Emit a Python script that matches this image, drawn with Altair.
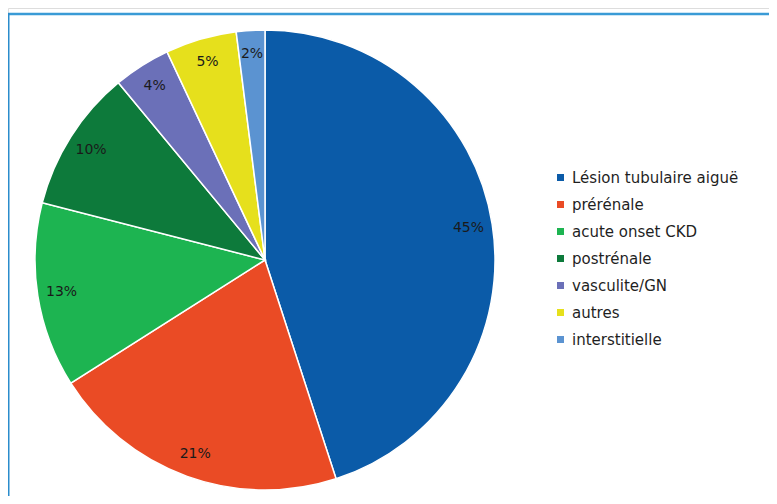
import altair as alt
import pandas as pd

categories = ["Lésion tubulaire aiguë", "prérénale", "acute onset CKD", "postrénale",
              "vasculite/GN", "autres", "interstitielle"]
values = [45, 21, 13, 10, 4, 5, 2]
labels = ["45%", "21%", "13%", "10%", "4%", "5%", "2%"]
colors = ["#0b5ba8", "#ea4b25", "#1db451", "#0d7a3b", "#6b70b8", "#e6e01c", "#5b93d1"]

df = pd.DataFrame({"cat": categories, "val": values, "lab": labels,
                   "ord": list(range(len(categories)))})

W, H = 761, 488
cx, cy, R = 257, 252, 230

base = alt.Chart(df).encode(
    theta=alt.Theta("val:Q", stack=True),
    order=alt.Order("ord:Q"),
)

pie = base.mark_arc(radius=R, stroke="white", strokeWidth=1.5).encode(
    x=alt.value(cx), y=alt.value(cy),
    color=alt.Color("cat:N", sort=categories,
                    scale=alt.Scale(domain=categories, range=colors),
                    legend=alt.Legend(title=None, orient="none", legendX=545, legendY=162,
                                      symbolType="square", symbolSize=49,
                                      symbolStrokeWidth=0, labelFontSize=15,
                                      labelFont="DejaVu Sans", labelColor="#1f1f1f",
                                      labelOffset=4, rowPadding=11, labelLimit=300)),
)

text = base.mark_text(radius=206, fontSize=14, font="DejaVu Sans", color="#1a1a1a").encode(
    x=alt.value(cx), y=alt.value(cy),
    text="lab:N",
)

frame_df = pd.DataFrame({"k": [0]})
top = alt.Chart(frame_df).mark_rule(color="#3a9bd6", strokeWidth=2.5).encode(
    x=alt.value(0), x2=alt.value(W), y=alt.value(6), y2=alt.value(6))
left = alt.Chart(frame_df).mark_rule(color="#2b8ccc", strokeWidth=2).encode(
    x=alt.value(0.5), x2=alt.value(0.5), y=alt.value(5), y2=alt.value(H))

chart = alt.layer(top, left, pie, text).properties(
    width=W, height=H, autosize=alt.AutoSizeParams(type="none"), padding=0
).configure_view(stroke=None).configure(background="white")

chart.save("out.html", embed_options={"renderer": "svg", "actions": False})
